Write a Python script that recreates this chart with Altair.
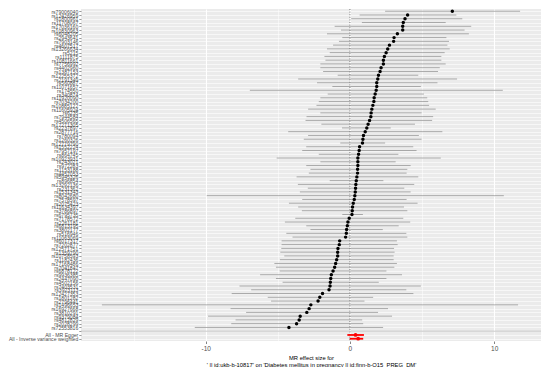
import altair as alt
import pandas as pd

snps = [
    "rs79006040", "rs12426959", "rs1800961", "rs11708067", "rs17036160", "rs10830963", "rs6048205", "rs2943641", "rs7903146", "rs4607517",
    "rs13266634", "rs5215", "rs1111875", "rs10811661", "rs7756992", "rs4402960", "rs1387153", "rs12255372", "rs2191349", "rs560887",
    "rs11071657", "rs174550", "rs340874", "rs11920090", "rs7034200", "rs10885122", "rs11605924", "rs6235", "rs7944584", "rs4506565",
    "rs17271305", "rs2237897", "rs2877716", "rs780094", "rs1260326", "rs12779790", "rs1552224", "rs7957197", "rs864745", "rs10923931",
    "rs243021", "rs972283", "rs1153188", "rs4457053", "rs5945326", "rs896854", "rs13292136", "rs231362", "rs1531343", "rs8042680",
    "rs7578597", "rs2075423", "rs11634397", "rs3786897", "rs6795735", "rs7178572", "rs2261181", "rs6813195", "rs3802177", "rs516946",
    "rs11063069", "rs6017317", "rs7202877", "rs12571751", "rs1359790", "rs10758593", "rs1182436", "rs17168486", "rs7041847", "rs6878122",
    "rs9936385", "rs2447090", "rs4502156", "rs7403531", "rs3923113", "rs12427353", "rs1801282", "rs2796441", "rs1496653", "rs16927668",
    "rs3810291", "rs9379084", "rs4812829", "rs2028299", "rs72553816",
]

beta = [
    7.10, 4.00, 3.82, 3.70, 3.66, 3.66, 3.29, 3.06, 3.03, 2.74,
    2.62, 2.51, 2.39, 2.32, 2.32, 2.16, 2.09, 1.98, 1.93, 1.86,
    1.86, 1.82, 1.75, 1.68, 1.66, 1.59, 1.52, 1.47, 1.45, 1.36,
    1.26, 1.17, 1.06, 0.94, 0.90, 0.87, 0.67, 0.64, 0.60, 0.55,
    0.55, 0.55, 0.53, 0.53, 0.48, 0.44, 0.41, 0.39, 0.37, 0.34,
    0.30, 0.23, 0.18, 0.16, 0.14, -0.05, -0.14, -0.18, -0.23, -0.25,
    -0.30, -0.71, -0.74, -0.83, -0.85, -0.85, -0.92, -0.99, -1.06, -1.17,
    -1.29, -1.33, -1.36, -1.38, -1.45, -1.90, -2.09, -2.21, -2.71, -2.83,
    -2.99, -3.45, -3.52, -3.70, -4.23,
]

lower = [
    2.44, 0.67, 0.09, 0.83, -1.06, -0.62, -1.59, -0.53, -0.76, -1.17,
    -1.59, -1.40, -1.77, -1.70, -2.05, -2.05, -1.86, -0.85, -3.59, -2.28,
    -1.22, -6.94, -1.54, -2.05, -2.16, -2.32, -2.90, -2.05, -3.01, -3.08,
    -1.98, -0.55, -4.28, -2.90, -3.20, -0.67, -3.03, -3.31, -2.16, -5.08,
    -2.05, -3.03, -2.74, -2.85, -3.70, -1.40, -3.61, -2.92, -3.47, -9.93,
    -3.31, -4.23, -3.59, -3.33, -0.53, -3.79, -4.51, -3.03, -2.74, -4.41,
    -3.98, -4.74, -4.74, -4.76, -4.83, -4.55, -4.85, -5.24, -5.13, -4.87,
    -6.23, -5.13, -4.67, -7.66, -6.85, -8.20, -5.70, -5.47, -17.20, -8.28,
    -7.20, -9.84, -7.93, -8.23, -10.76,
]

upper = [
    11.80, 7.38, 7.79, 6.64, 8.41, 7.95, 8.25, 6.69, 6.87, 6.76,
    6.92, 6.57, 6.34, 6.34, 6.64, 6.23, 6.11, 4.74, 7.43, 6.07,
    4.92, 10.60, 5.13, 5.36, 5.43, 5.49, 5.95, 4.97, 5.77, 5.70,
    4.51, 2.83, 6.41, 4.78, 4.97, 2.44, 4.39, 4.62, 3.36, 6.30,
    3.17, 4.21, 3.98, 3.93, 4.74, 2.32, 4.46, 3.77, 4.21, 10.67,
    3.93, 4.69, 3.75, 3.98, 0.90, 3.70, 4.18, 3.38, 2.28, 3.91,
    3.98, 3.26, 3.31, 3.06, 3.10, 3.03, 3.03, 3.26, 3.08, 2.53,
    3.61, 2.53, 2.00, 4.92, 3.91, 4.40, 1.61, 1.01, 11.66, 2.64,
    1.95, 2.92, 0.85, 0.92, 2.30,
]

summary_labels = ["All - MR Egger", "All - Inverse variance weighted"]
summary_beta = [0.39, 0.57]
summary_lower = [-0.18, -0.02]
summary_upper = [0.97, 0.92]

blank = " "
order = snps + [blank] + summary_labels

x_title = [
    "MR effect size for",
    "' || id:ukb-b-10817' on 'Diabetes mellitus in pregnancy || id:finn-b-O15_PREG_DM'",
]

snp_df = pd.DataFrame({"SNP": snps, "b": beta, "lo": lower, "up": upper})
sum_df = pd.DataFrame({"SNP": summary_labels, "b": summary_beta, "lo": summary_lower, "up": summary_upper})

FONT = "Liberation Sans"

x_scale = alt.Scale(domain=[-18.65, 13.25], nice=False, zero=False)
y_scale = alt.Scale(domain=order, type="point", padding=0.6)

x_axis = alt.Axis(
    values=[-15, -10, -5, 0, 5, 10],
    labelExpr="datum.value % 10 === 0 ? toString(datum.value) : ''",
    grid=True,
    gridColor="white",
    gridWidth={"condition": {"test": "datum.value % 10 === 0", "value": 1.1}, "value": 0.5},
    tickOpacity={"condition": {"test": "datum.value % 10 === 0", "value": 1}, "value": 0},
    tickColor="#333333",
    tickSize=2.5,
    tickWidth=0.6,
    domain=False,
    labelFont=FONT,
    labelFontSize=6.5,
    labelColor="#4D4D4D",
    labelPadding=1.5,
    title=x_title,
    titleFont=FONT,
    titleFontSize=5.8,
    titleFontWeight="normal",
    titleColor="black",
    titlePadding=3,
    titleLineHeight=6.5,
)

y_axis = alt.Axis(
    grid=True,
    gridColor="white",
    gridWidth=0.6,
    tickColor="#333333",
    tickSize=2.2,
    tickWidth=0.5,
    domain=False,
    labelFont=FONT,
    labelFontSize=5.1,
    labelColor="#4D4D4D",
    labelPadding=1,
    labelOverlap=False,
    title=None,
)

base_y = alt.Y("SNP:N", scale=y_scale, axis=y_axis)

zero_line = alt.Chart(pd.DataFrame({"x": [0]})).mark_rule(
    color="#444444", strokeDash=[1, 1.6], strokeWidth=0.7
).encode(x=alt.X("x:Q", scale=x_scale, axis=x_axis))

sep_line = alt.Chart(pd.DataFrame({"SNP": [blank]})).mark_rule(
    color="#BEBEBE", strokeWidth=0.8
).encode(y=base_y)

snp_bars = alt.Chart(snp_df).mark_rule(color="#777777", strokeWidth=0.6).encode(
    x=alt.X("lo:Q", scale=x_scale, axis=x_axis), x2="up:Q", y=base_y
)
snp_pts = alt.Chart(snp_df).mark_point(filled=True, color="black", size=12, opacity=1).encode(
    x=alt.X("b:Q", scale=x_scale, axis=x_axis), y=base_y
)
sum_bars = alt.Chart(sum_df).mark_rule(color="#FF0000", strokeWidth=1.8).encode(
    x=alt.X("lo:Q", scale=x_scale, axis=x_axis), x2="up:Q", y=base_y
)
sum_pts = alt.Chart(sum_df).mark_point(filled=True, color="#FF0000", size=14, opacity=1).encode(
    x=alt.X("b:Q", scale=x_scale, axis=x_axis), y=base_y
)

chart = (
    alt.layer(zero_line, sep_line, snp_bars, snp_pts, sum_bars, sum_pts)
    .properties(
        width=460,
        height=332,
        background="white",
        padding={"left": 0, "right": 0, "top": 0, "bottom": 0},
    )
    .configure_view(fill="#EBEBEB", stroke=None)
)

chart.save("out.html", embed_options={"renderer": "svg", "actions": False})
